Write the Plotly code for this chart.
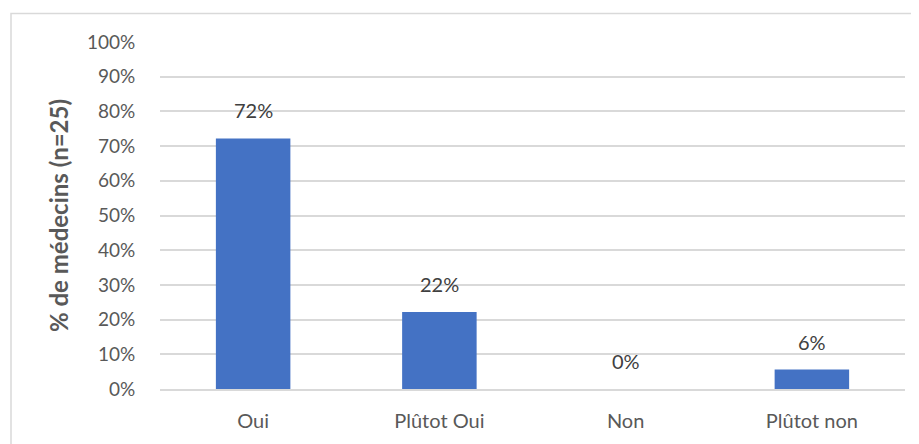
import plotly.graph_objects as go

categories = ["Oui", "Plûtot Oui", "Non", "Plûtot non"]
values = [72.2, 22.2, 0.0, 5.6]
labels = ["72%", "22%", "0%", "6%"]
y_ticks = [0, 10, 20, 30, 40, 50, 60, 70, 80, 90, 100]
y_tick_text = [f"{v}%" for v in y_ticks]

FONT = "Lato, Calibri, Carlito, sans-serif"
GREY = "#595959"

fig = go.Figure()
fig.add_trace(go.Bar(
    x=categories, y=values,
    marker=dict(color="#4472C4", line=dict(width=0)),
    hoverinfo="skip",
))

for c, v, t in zip(categories, values, labels):
    fig.add_annotation(x=c, y=v, text=t, showarrow=False, yanchor="bottom",
                       yshift=14, font=dict(family=FONT, size=20, color="#404040"))

fig.add_shape(type="rect", xref="paper", yref="paper",
              x0=-0.2, x1=1.2, y0=-0.4, y1=1.0821,
              line=dict(color="#d9d9d9", width=1.5), layer="below")

fig.update_layout(
    width=911, height=436,
    margin=dict(l=152, r=14, t=34, b=55),
    paper_bgcolor="white", plot_bgcolor="white",
    bargap=0.6, showlegend=False,
    font=dict(family=FONT, color=GREY),
    xaxis=dict(
        showgrid=False, showline=True, linecolor="#d9d9d9", linewidth=1.5,
        ticks="outside", ticklen=13, tickcolor="rgba(0,0,0,0)",
        tickfont=dict(family=FONT, size=20, color=GREY),
        fixedrange=True,
    ),
    yaxis=dict(
        range=[0, 100], tickvals=y_ticks, ticktext=y_tick_text,
        showgrid=True, gridcolor="#d9d9d9", gridwidth=1.5,
        zeroline=False, showline=False,
        ticks="outside", ticklen=20, tickcolor="rgba(0,0,0,0)",
        tickfont=dict(family=FONT, size=19, color=GREY),
        title=dict(text="<b>% de médecins (n=25)</b>", standoff=11,
                   font=dict(family=FONT, size=24, color=GREY)),
        fixedrange=True,
    ),
)

fig.write_html("out.html")
